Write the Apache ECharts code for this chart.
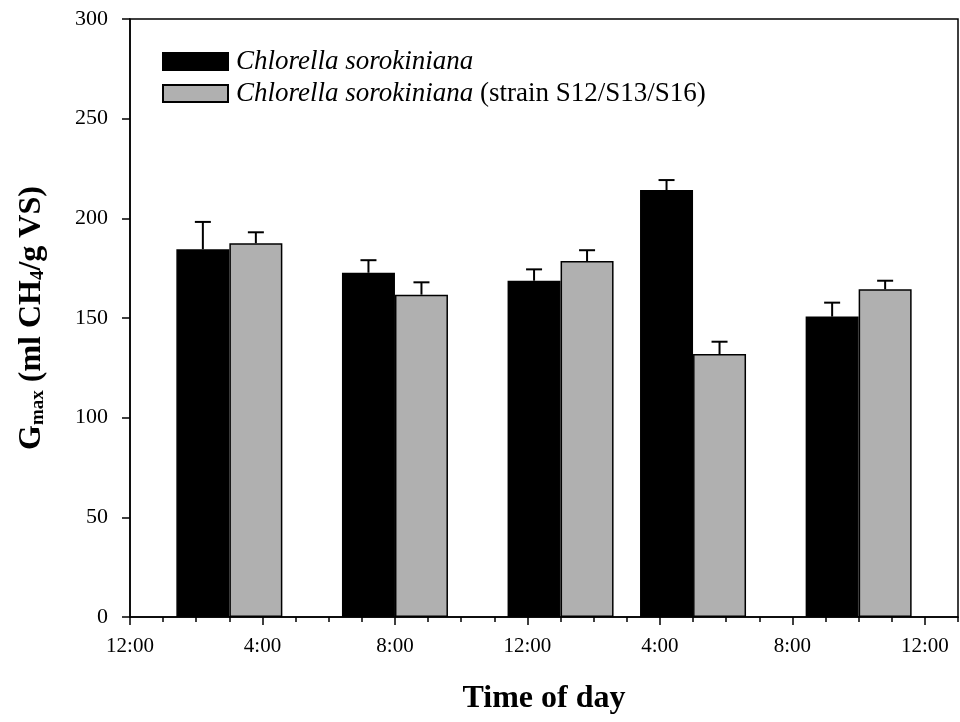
<!DOCTYPE html>
<html>
<head>
<meta charset="utf-8">
<script src="https://cdn.jsdelivr.net/npm/echarts@6/dist/echarts.min.js"></script>
<style>
  html, body { margin: 0; padding: 0; background: #fff; }
  #chart { width: 960px; height: 722px; }
</style>
</head>
<body>
<div id="chart"></div>
<script>
// hours after 12:00 (noon) where each pair of bars sits
const groupHours = [3, 8, 13, 17, 22];
const tickLabels = ['12:00', '4:00', '8:00', '12:00', '4:00', '8:00', '12:00'];

const seriesNames = [
  'Chlorella sorokiniana',
  'Chlorella sorokiniana (strain S12/S13/S16)',
];
const gmaxWild = [184.5, 172.7, 168.7, 214.2, 150.7];
const errWild = [13.7, 6.3, 5.7, 5.0, 7.0];
const gmaxStrain = [187.5, 161.7, 178.6, 131.9, 164.4];
const errStrain = [5.5, 6.2, 5.4, 6.2, 4.3];

const FONT = 'Liberation Serif';
const BAR_W = 53;

const chart = echarts.init(document.getElementById('chart'));

const barData = (vals) => groupHours.map((h, i) => [h, vals[i]]);
const errData = (vals, errs) => groupHours.map((h, i) => [h, vals[i], errs[i]]);

// error bar drawn on top of each bar, shifted left/right by half a bar
const errorSeries = (vals, errs, side) => ({
  type: 'custom',
  xAxisIndex: 0,
  data: errData(vals, errs),
  z: 5,
  silent: true,
  renderItem: (params, api) => {
    const base = api.coord([api.value(0), api.value(1)]);
    const top = api.coord([api.value(0), api.value(1) + api.value(2)]);
    const x = base[0] + side * BAR_W / 2;
    const style = { stroke: '#000', lineWidth: 2 };
    return {
      type: 'group',
      children: [
        { type: 'line', shape: { x1: x, y1: base[1], x2: x, y2: top[1] }, style },
        { type: 'line', shape: { x1: x - 8, y1: top[1], x2: x + 8, y2: top[1] }, style },
      ],
    };
  },
});

const option = {
  animation: false,
  grid: {
    left: 130,
    right: 2,
    top: 19,
    bottom: 105,
    show: true,
    borderColor: '#000',
    borderWidth: 1.5,
    backgroundColor: 'transparent',
  },
  legend: {
    orient: 'vertical',
    left: 157,
    top: 43,
    itemWidth: 65,
    itemHeight: 17,
    itemGap: 5,
    icon: 'rect',
    selectedMode: false,
    data: seriesNames,
    formatter: (name) =>
      name.replace('Chlorella sorokiniana', '{i|Chlorella sorokiniana}'),
    textStyle: {
      fontFamily: FONT,
      fontSize: 27,
      lineHeight: 27,
      color: '#000',
      padding: [0, 0, 0, 3],
      rich: {
        i: { fontFamily: FONT, fontSize: 27, lineHeight: 27, fontStyle: 'italic', color: '#000' },
      },
    },
  },
  xAxis: [
    {
      type: 'value',
      min: 0,
      max: 25,
      interval: 4,
      splitLine: { show: false },
      axisLine: { onZero: false, lineStyle: { color: '#000', width: 1.5 } },
      axisTick: { show: true, length: 8, lineStyle: { color: '#000', width: 1.5 } },
      axisLabel: {
        margin: 19,
        fontFamily: FONT,
        fontSize: 21,
        color: '#000',
        showMaxLabel: false,
        formatter: (v) => (v % 4 === 0 ? tickLabels[v / 4] || '' : ''),
      },
      name: 'Time of day',
      nameLocation: 'middle',
      nameGap: 66,
      nameTextStyle: { fontFamily: FONT, fontSize: 32, fontWeight: 'bold', color: '#000' },
    },
    {
      // hourly minor ticks
      type: 'value',
      position: 'bottom',
      min: 0,
      max: 25,
      interval: 1,
      splitLine: { show: false },
      axisLine: { show: false },
      axisLabel: { show: false },
      axisTick: { show: true, length: 5, lineStyle: { color: '#000', width: 1.5 } },
    },
  ],
  yAxis: {
    type: 'value',
    min: 0,
    max: 300,
    interval: 50,
    splitLine: { show: false },
    axisLine: { show: true, lineStyle: { color: '#000', width: 1.5 } },
    axisTick: { show: true, length: 8, lineStyle: { color: '#000', width: 1.5 } },
    axisLabel: { margin: 22, fontFamily: FONT, fontSize: 22, color: '#000' },
    name: '{g|G}{s|max}{g| (ml CH}{s|4}{g|/g VS)}',
    nameLocation: 'middle',
    nameRotate: 90,
    nameGap: 82,
    nameTextStyle: {
      rich: {
        g: { fontFamily: FONT, fontSize: 32, fontWeight: 'bold', color: '#000', lineHeight: 32 },
        s: { fontFamily: FONT, fontSize: 19, fontWeight: 'bold', color: '#000', lineHeight: 19, verticalAlign: 'bottom' },
      },
    },
  },
  series: [
    {
      name: seriesNames[0],
      type: 'bar',
      xAxisIndex: 0,
      data: barData(gmaxWild),
      barWidth: BAR_W,
      barGap: '0%',
      itemStyle: { color: '#000', borderColor: '#000', borderWidth: 1.5 },
    },
    {
      name: seriesNames[1],
      type: 'bar',
      xAxisIndex: 0,
      data: barData(gmaxStrain),
      barWidth: BAR_W,
      barGap: '0%',
      itemStyle: { color: '#b0b0b0', borderColor: '#000', borderWidth: 1.5 },
    },
    errorSeries(gmaxWild, errWild, -1),
    errorSeries(gmaxStrain, errStrain, 1),
  ],
};

chart.setOption(option);
</script>
</body>
</html>
